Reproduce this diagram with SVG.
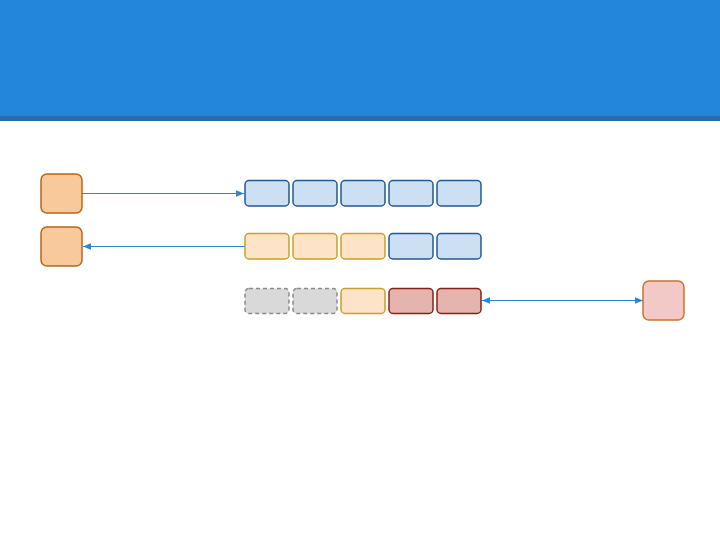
<svg xmlns="http://www.w3.org/2000/svg" width="720" height="540" viewBox="0 0 720 540">
<style>
.ext{fill:#f8c99b;stroke:#b8661a;stroke-width:1.5}
.ext2{fill:#f3c9c7;stroke:#c8762e;stroke-width:1.5}
.blue{fill:#cde0f3;stroke:#1f5a92;stroke-width:1.5}
.yel{fill:#fde3c7;stroke:#c9a02c;stroke-width:1.5}
.red{fill:#e6b4ae;stroke:#8c1f16;stroke-width:1.5}
.gray{fill:#d9d9d9;stroke:#8a8a8a;stroke-width:1.5;stroke-dasharray:4 3}
.conn{stroke:#2b86d0;stroke-width:1.2;fill:none}
</style>
<defs>
<marker id="ah" viewBox="0 0 10 10" refX="10" refY="5" markerWidth="8" markerHeight="8" orient="auto-start-reverse" markerUnits="userSpaceOnUse">
<path d="M0,1 L10,5 L0,9 Z" fill="#2b86d0"/>
</marker>
</defs>
<rect x="0" y="0" width="720" height="117" fill="#2386db"/>
<rect x="0" y="116" width="720" height="5" fill="#2b6ca8"/>
<g id="src1"><rect class="ext" x="41" y="174" width="41" height="39" rx="6"/></g>
<g id="dst1"><rect class="ext" x="41" y="227" width="41" height="39" rx="6"/></g>
<g id="peer"><rect class="ext2" x="643" y="281" width="41" height="39" rx="6"/></g>
<g id="row1">
<rect class="blue" x="245" y="180.5" width="44" height="25.5" rx="4"/>
<rect class="blue" x="293" y="180.5" width="44" height="25.5" rx="4"/>
<rect class="blue" x="341" y="180.5" width="44" height="25.5" rx="4"/>
<rect class="blue" x="389" y="180.5" width="44" height="25.5" rx="4"/>
<rect class="blue" x="437" y="180.5" width="44" height="25.5" rx="4"/>
</g>
<g id="row2">
<rect class="yel" x="245" y="233.5" width="44" height="25.5" rx="4"/>
<rect class="yel" x="293" y="233.5" width="44" height="25.5" rx="4"/>
<rect class="yel" x="341" y="233.5" width="44" height="25.5" rx="4"/>
<rect class="blue" x="389" y="233.5" width="44" height="25.5" rx="4"/>
<rect class="blue" x="437" y="233.5" width="44" height="25.5" rx="4"/>
</g>
<g id="row3">
<rect class="gray" x="245" y="288.5" width="44" height="25" rx="4"/>
<rect class="gray" x="293" y="288.5" width="44" height="25" rx="4"/>
<rect class="yel" x="341" y="288.5" width="44" height="25" rx="4"/>
<rect class="red" x="389" y="288.5" width="44" height="25" rx="4"/>
<rect class="red" x="437" y="288.5" width="44" height="25" rx="4"/>
</g>
<g id="connectors">
<line class="conn" x1="82" y1="193.5" x2="244" y2="193.5" marker-end="url(#ah)"/>
<line class="conn" x1="245" y1="246.5" x2="83" y2="246.5" marker-end="url(#ah)"/>
<line class="conn" x1="482" y1="300.5" x2="643" y2="300.5" marker-start="url(#ah)" marker-end="url(#ah)"/>
</g>
</svg>
